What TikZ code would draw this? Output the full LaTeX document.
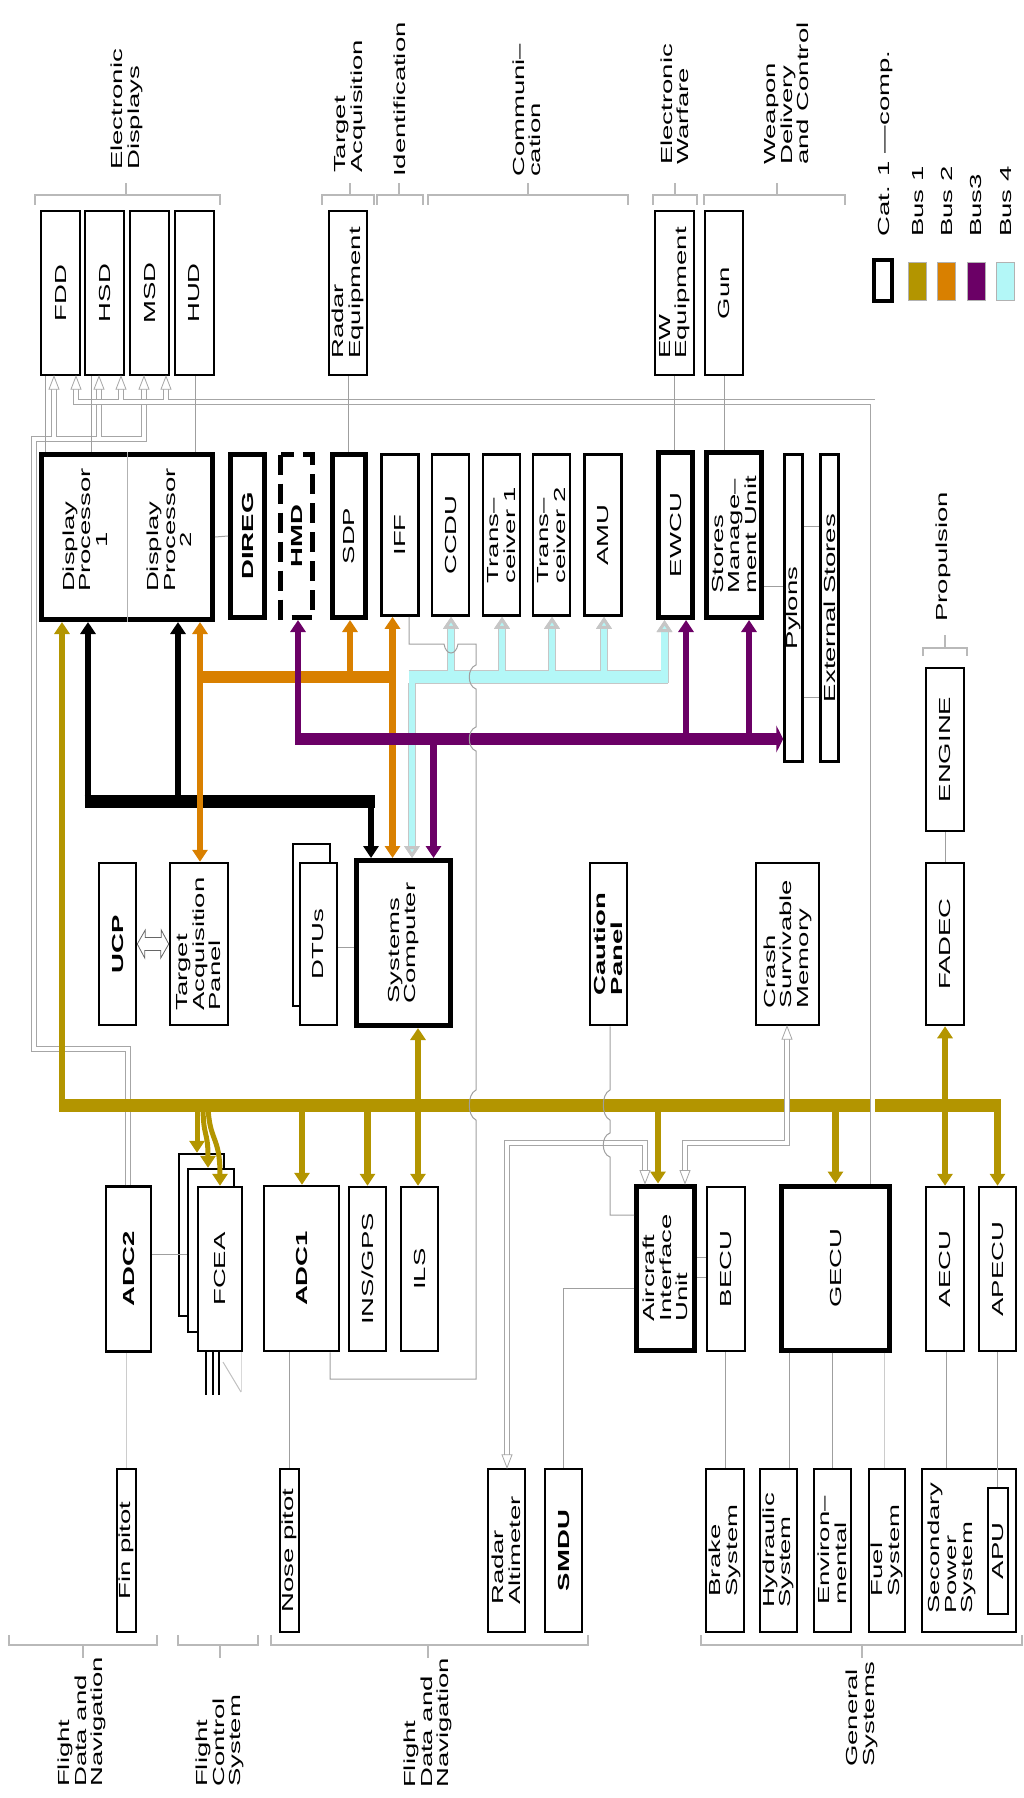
\documentclass[tikz,border=0pt]{standalone}
\usepackage{fontspec}
\setmainfont{Liberation Sans}[FakeStretch=1.72]
\usepackage{xcolor}
\usetikzlibrary{arrows.meta, calc}

\definecolor{busone}{RGB}{179,149,0}
\definecolor{bustwo}{RGB}{217,128,0}
\definecolor{busthree}{RGB}{107,0,102}
\definecolor{busfour}{RGB}{179,247,247}

% group brackets above and below the boxes
\newcommand{\topgroup}[3]{\draw[brk] (#1,205) -- (#1,195) -- (#2,195) -- (#2,205) (#3,195) -- (#3,183);}
\newcommand{\botgroup}[3]{\draw[brk] (#1,1635) -- (#1,1645) -- (#2,1645) -- (#2,1635) (#3,1645) -- (#3,1658);}

\begin{document}
\begin{tikzpicture}[x=1pt, y=-1pt, font=\fontsize{16}{16.5}\selectfont,
    sz/.style 2 args={minimum width=#1pt, minimum height=#2pt},
    box/.style={draw, fill=white, line width=2.5pt, rotate=90, inner sep=1pt, align=left},
    catbox/.style={box, line width=5pt},
    lbl/.style={rotate=90, align=left, inner sep=0pt},
    wire/.style={draw=gray!75, line width=1pt},
    brk/.style={draw=gray!55, line width=1.2pt},
    hollow/.style={draw=gray!70, double=white, double distance=4pt, line width=0.8pt},
    bone/.style={draw=busone, line width=6.5pt},
    btwo/.style={draw=bustwo, line width=6.5pt},
    bthree/.style={draw=busthree, line width=6.5pt},
    bfour/.style={draw=busfour, line width=6.5pt, preaction={draw=gray!45, line width=8pt},
        >={Triangle[length=12pt,width=15pt,color=gray!45,fill=busfour]}},
    >={Triangle[length=12pt,width=15pt]},
    pics/tipup/.style={code={\filldraw[fill=white, draw=gray!70, line width=0.8pt] (0,0) -- (-5,13) -- (5,13) -- cycle;}},
    pics/tipdown/.style={code={\filldraw[fill=white, draw=gray!70, line width=0.8pt] (0,0) -- (-5,-13) -- (5,-13) -- cycle;}}]

    \useasboundingbox (0,0) rectangle (1024,1798);

    % Electronic displays and top row
    \node[box, sz={164}{39}] (fdd) at (60.5,293) {FDD};
    \node[box, sz={164}{39}] (hsd) at (104.5,293) {HSD};
    \node[box, sz={164}{39}] (msd) at (149.5,293) {MSD};
    \node[box, sz={164}{39}] (hud) at (194.5,293) {HUD};
    \node[box, sz={164}{38}] (radar) at (348,293) {Radar\\Equipment};
    \node[box, sz={164}{39}] (ewe) at (674.5,293) {EW\\Equipment};
    \node[box, sz={164}{38}] (gun) at (724,293) {Gun};

    % Processors and equipment row
    \node[catbox, sz={165}{171}] (dp) at (127,537) {};
    \draw[wire, draw=gray!60] (dp.east) -- (dp.west);
    \node[lbl] (dpone) at (85,530) {Display\\Processor\\\hspace*{44pt}1};
    \node[lbl] (dptwo) at (169.5,530) {Display\\Processor\\\hspace*{44pt}2};
    \node[catbox, sz={163}{34}] (direg) at (247.5,536) {\textbf{DIREG}};
    \node[catbox, dash pattern=on 20pt off 9pt, sz={163}{32}] (hmd) at (296.5,536) {\textbf{HMD}};
    \node[catbox, sz={163}{33}] (sdp) at (349,536) {SDP};
    \node[box, sz={161}{37}] (iff) at (400,535) {IFF};
    \node[box, sz={161}{37}] (ccdu) at (450.5,535) {CCDU};
    \node[box, sz={161}{37}] (trone) at (501.5,535) {Trans–\\ceiver 1};
    \node[box, sz={161}{37}] (trtwo) at (551.5,535) {Trans–\\ceiver 2};
    \node[box, sz={161}{37}] (amu) at (603,535) {AMU};
    \node[catbox, sz={165}{34}] (ewcu) at (675.5,535) {EWCU};
    \node[catbox, sz={165}{55}] (smu) at (734,535) {Stores\\Manage–\\ment Unit};
    \node[box, sz={307}{18}] (pylons) at (793.5,608) {Pylons};
    \node[box, sz={307}{18}] (ext) at (829.5,608) {External Stores};
    \node[box, sz={163}{38}] (engine) at (945,749.5) {ENGINE};

    % Computer row
    \node[box, sz={162}{37}] (ucp) at (117.5,944) {\textbf{UCP}};
    \node[box, sz={162}{58}] (tap) at (199,944) {Target\\Acquisition\\Panel};
    \node[box, sz={162}{37}] (dtuback) at (311.5,925) {};
    \node[box, sz={162}{37}] (dtu) at (318.5,944) {DTUs};
    \node[catbox, sz={165}{94}] (sc) at (403.5,943) {Systems\\Computer};
    \node[box, sz={162}{37}] (caution) at (608.5,944) {\textbf{Caution}\\\textbf{Panel}};
    \node[box, sz={162}{63}] (csm) at (787.5,944) {Crash\\Survivable\\Memory};
    \node[box, sz={162}{38}] (fadec) at (945,944) {FADEC};

    % Units on bus 1
    \node[box, sz={165}{45}] (adc2) at (128.5,1269) {\textbf{ADC2}};
    \node[box, sz={162}{45}] (fceac) at (201.5,1235) {};
    \node[box, sz={163}{46}] (fceab) at (211,1250.5) {};
    \node[box, sz={164}{44}] (fcea) at (220,1269) {FCEA};
    \node[box, sz={165}{75}] (adc1) at (301.5,1268.5) {\textbf{ADC1}};
    \node[box, sz={164}{37}] (ins) at (367.5,1269) {INS/GPS};
    \node[box, sz={164}{37}] (ils) at (419.5,1269) {ILS};
    \node[catbox, sz={164}{58}] (aiu) at (665.5,1268) {Aircraft\\Interface\\Unit};
    \node[box, sz={164}{38}] (becu) at (726,1269) {BECU};
    \node[catbox, sz={164}{108}] (gecu) at (835.5,1268) {GECU};
    \node[box, sz={164}{38}] (aecu) at (945,1269) {AECU};
    \node[box, sz={164}{37}] (apecu) at (997.5,1269) {APECU};

    % Sensors and general systems
    \node[box, sz={163}{19}] (finp) at (126.5,1550.5) {Fin pitot};
    \node[box, sz={163}{19}] (nosep) at (289.5,1550.5) {Nose pitot};
    \node[box, sz={163}{37}] (radalt) at (506.5,1550.5) {Radar\\Altimeter};
    \node[box, sz={163}{37}] (smdu) at (563.5,1550.5) {\textbf{SMDU}};
    \node[box, sz={163}{38}] (brake) at (725,1550.5) {Brake\\System};
    \node[box, sz={163}{37}] (hyd) at (778.5,1550.5) {Hydraulic\\System};
    \node[box, sz={163}{37}] (env) at (832.5,1550.5) {Environ–\\mental};
    \node[box, sz={163}{36}] (fuel) at (887,1550.5) {Fuel\\System};
    \node[box, sz={163}{94}] (sps) at (969,1550.5) {};
    \node[lbl] (spstext) at (952,1548) {Secondary\\Power\\System};
    \node[box, sz={126}{20}] (apu) at (998,1551) {APU};

    % Group labels
    \node[lbl, anchor=west] (ed) at (127,170) {Electronic\\Displays};
    \node[lbl, anchor=west] (ta) at (350,173) {Target\\Acquisition};
    \node[lbl, anchor=west] (idt) at (400,177) {Identification};
    \node[lbl, anchor=west] (com) at (527,177) {Communi–\\cation};
    \node[lbl, anchor=west] (ew) at (675,165) {Electronic\\Warfare};
    \node[lbl, anchor=west] (wdc) at (787,165) {Weapon\\Delivery\\and Control};
    \node[lbl, anchor=west] (prop) at (943,622) {Propulsion};
    \node[lbl, anchor=west] (fdna) at (82,1787) {Flight\\Data and\\Navigation};
    \node[lbl, anchor=west] (fcs) at (220,1787) {Flight\\Control\\System};
    \node[lbl, anchor=west] (fdnb) at (428,1788) {Flight\\Data and\\Navigation};
    \node[lbl, anchor=west] (gs) at (862,1767) {General\\Systems};

    \topgroup{35}{220}{126}
    \topgroup{322}{374}{350}
    \topgroup{377}{423}{399}
    \topgroup{428}{628}{528}
    \topgroup{653}{697}{675}
    \topgroup{704}{845}{777}
    \draw[brk] (923,656) -- (923,648) -- (967,648) -- (967,656) (945,648) -- (945,635);
    \botgroup{9}{157}{83}
    \botgroup{178}{258}{220}
    \botgroup{271}{588}{428}
    \botgroup{701}{1022}{862}

    % Legend
    \node[lbl, anchor=west] (legcat) at (886,237) {Cat. 1 —comp.};
    \node[lbl, anchor=west] (legone) at (918,237) {Bus 1};
    \node[lbl, anchor=west] (legtwo) at (946.5,237) {Bus 2};
    \node[lbl, anchor=west] (legthree) at (976,237) {Bus3};
    \node[lbl, anchor=west] (legfour) at (1006,237) {Bus 4};
    \draw[line width=4pt] (874,260) rectangle (892,301);
    \filldraw[fill=busone, draw=gray!60] (908,262) rectangle (926,300);
    \filldraw[fill=bustwo, draw=gray!60] (937,262) rectangle (955,300);
    \filldraw[fill=busthree, draw=gray!60] (967,262) rectangle (985,300);
    \filldraw[fill=busfour, draw=gray!60] (996,262) rectangle (1014,300);

    % ADC2 to the displays
    \draw[hollow] (128,0 |- adc2.east) -- (128,1049) -- (34,1049) -- (34,439) -- (144,439) -- (144,385)
        (54,439) -- (54,385) (99,439) -- (99,385);

    % Bus 1
    \draw[busone, line width=13pt] (59,1105) -- (1001,1105);
    \draw[bone, <-] (62,0 |- dp.west) -- (62,1105);
    \draw[bone, line width=5pt, ->] (197,1105) -- (197,0 |- fceac.east);
    \draw[bone, line width=5pt, ->] (203,1105) .. controls (203,1138) and (208,1130) .. (208,0 |- fceab.east);
    \draw[bone, line width=5pt, ->] (208,1105) .. controls (209,1142) and (220,1135) .. (220,0 |- fcea.east);
    \draw[bone, ->] (302,1105) -- (302,0 |- adc1.east);
    \draw[bone, ->] (367.5,1105) -- (ins.east);
    \draw[bone, ->] (418,1105) -- (418,0 |- ils.east);
    \draw[bone, ->] (418,1105) -- (418,0 |- sc.west);
    \draw[bone, ->] (658,1105) -- (658,0 |- aiu.east);
    \draw[bone, ->] (835.5,1105) -- (gecu.east);
    \draw[bone, ->] (945,1105) -- (fadec.west);
    \draw[bone, ->] (945,1105) -- (aecu.east);
    \draw[bone, ->] (997.5,1105) -- (apecu.east);

    % Black bus
    \draw[line width=13pt] (84.5,801) -- (374.5,801);
    \draw[line width=6.5pt, ->] (88,801) -- (88,0 |- dp.west);
    \draw[line width=6.5pt, ->] (178,801) -- (178,0 |- dp.west);
    \draw[line width=6.5pt, ->] (371,801) -- (371,0 |- sc.east);

    % Bus 2
    \draw[bustwo, line width=12pt] (197,677) -- (396,677);
    \draw[btwo, <->] (200,0 |- dp.west) -- (200,0 |- tap.east);
    \draw[btwo, ->] (350,677) -- (350,0 |- sdp.west);
    \draw[btwo, <->] (392.5,0 |- iff.west) -- (392.5,0 |- sc.east);

    % Bus 4
    \draw[busfour, line width=12pt, preaction={draw=gray!45, line width=13.5pt}] (408.5,677) -- (668,677);
    \draw[bfour, ->] (412,683) -- (412,0 |- sc.east);
    \draw[bfour, ->] (451,671) -- (451,0 |- ccdu.west);
    \draw[bfour, ->] (502,671) -- (502,0 |- trone.west);
    \draw[bfour, ->] (552,671) -- (552,0 |- trtwo.west);
    \draw[bfour, ->] (604,671) -- (604,0 |- amu.west);
    \draw[bfour, ->] (664.5,683) -- (664.5,0 |- ewcu.west);

    % Bus 3
    \draw[busthree, line width=12pt, -{Triangle[length=7pt,width=27pt]}] (295,739) -- (295,739 -| pylons.north);
    \draw[bthree, ->] (298,739) -- (298,0 |- hmd.west);
    \draw[bthree, ->] (433.5,739) -- (433.5,0 |- sc.east);
    \draw[bthree, ->] (686,739) -- (686,0 |- ewcu.west);
    \draw[bthree, ->] (749,739) -- (749,0 |- smu.west);

    % GECU, radar altimeter and crash memory links
    \draw[hollow] (872.5,0 |- gecu.east) -- (872.5,402) -- (76,402) -- (76,385)
        (121,402) -- (121,385) (166,402) -- (166,385);
    \draw[hollow] (507,1459) -- (507,1143) -- (645,1143) -- (645,1175);
    \draw[hollow] (787,1035) -- (787,1143) -- (685,1143) -- (685,1175);
    \foreach \x/\d in {54/fdd, 76/fdd, 99/hsd, 121/hsd, 144/msd, 166/msd}
        \pic at (\x,0 |- \d.west) {tipup};
    \pic at (787,0 |- csm.west) {tipup};
    \pic at (507,0 |- radalt.east) {tipdown};
    \pic at (645,0 |- aiu.east) {tipdown};
    \pic at (685,0 |- aiu.east) {tipdown};
    \draw[draw=gray!80!black, fill=white, line width=0.8pt] (ucp.south) -- ++(8,-14) -- ++(0,7.5) -- ++(16,0) -- ++(0,-7.5)
        -- (tap.north) -- ++(-8,14) -- ++(0,-7.5) -- ++(-16,0) -- ++(0,7.5) -- cycle;

    % Plain links
    \draw[wire] (45,0 |- fdd.west) -- (45,0 |- dp.east);
    \draw[wire] (91,0 |- hsd.west) -- (91,0 |- dp.east);
    \draw[wire] (195,0 |- hud.west) -- (195,0 |- dp.east);
    \draw[wire] (radar.west) -- (radar.west |- sdp.east);
    \draw[wire] (ewe.west) -- (ewe.west |- ewcu.east);
    \draw[wire] (gun.west) -- (gun.west |- smu.east);
    \draw[wire] (dp.south) -- (direg.north);
    \draw[wire] (smu.south |- 0,586) -- (pylons.north |- 0,586);
    \draw[wire] (pylons.south |- 0,526) -- (ext.north |- 0,526);
    \draw[wire] (pylons.south |- 0,697) -- (ext.north |- 0,697);
    \draw[wire] (engine.west) -- (fadec.east);
    \draw[wire] (dtu.south |- 0,947) -- (sc.north |- 0,947);
    \draw[wire] (409,0 |- iff.west) -- (409,644) -- (444,644) .. controls (446,656) and (456,656) .. (458,644)
        -- (476,644) -- (476,665) .. controls (467,668) and (467,686) .. (476,689)
        -- (476,727) .. controls (467,730) and (467,748) .. (476,751)
        -- (476,1090) .. controls (467,1094) and (467,1116) .. (476,1120)
        -- (476,1379) -| (330,0 |- adc1.west);
    \draw[wire] (610,0 |- caution.west) -- (610,1090) .. controls (601,1094) and (601,1116) .. (610,1120)
        -- (610,1133) .. controls (601,1136) and (601,1154) .. (610,1157)
        -- (610,1215) -- (610,1215 -| aiu.north);
    \draw[wire] (aiu.north |- 0,1288) -| (smdu.east);
    \draw[wire] (aiu.south |- 0,1257) -- (becu.north |- 0,1257);
    \draw[wire] (aiu.south |- 0,1277) -- (becu.north |- 0,1277);
    \draw[wire] (adc2.south |- 0,1254) -- (fceab.north |- 0,1254);
    \draw[wire, draw=gray!40] (finp.east |- adc2.west) -- (finp.east);
    \draw[wire] (nosep.east |- adc1.west) -- (nosep.east);
    \draw[wire] (brake.east |- becu.west) -- (brake.east);
    \draw[wire] (789,0 |- gecu.west) -- (789,0 |- hyd.east);
    \draw[wire] (env.east |- gecu.west) -- (env.east);
    \draw[wire, draw=gray!40] (884,0 |- gecu.west) -- (884,0 |- fuel.east);
    \draw[wire] (946,0 |- aecu.west) -- (946,0 |- sps.east);
    \draw[wire] (apecu.west) -- (apecu.west |- apu.east);
    \foreach \x in {206,213,219}
        \draw[line width=1.2pt] (\x,0 |- fcea.west) -- ++(0,43);
    \draw[wire, draw=gray!50] (223,1362) -- (241,1392);
    \draw[wire, draw=gray!30] (241,0 |- fcea.west) -- (241,1392);
\end{tikzpicture}
\end{document}
